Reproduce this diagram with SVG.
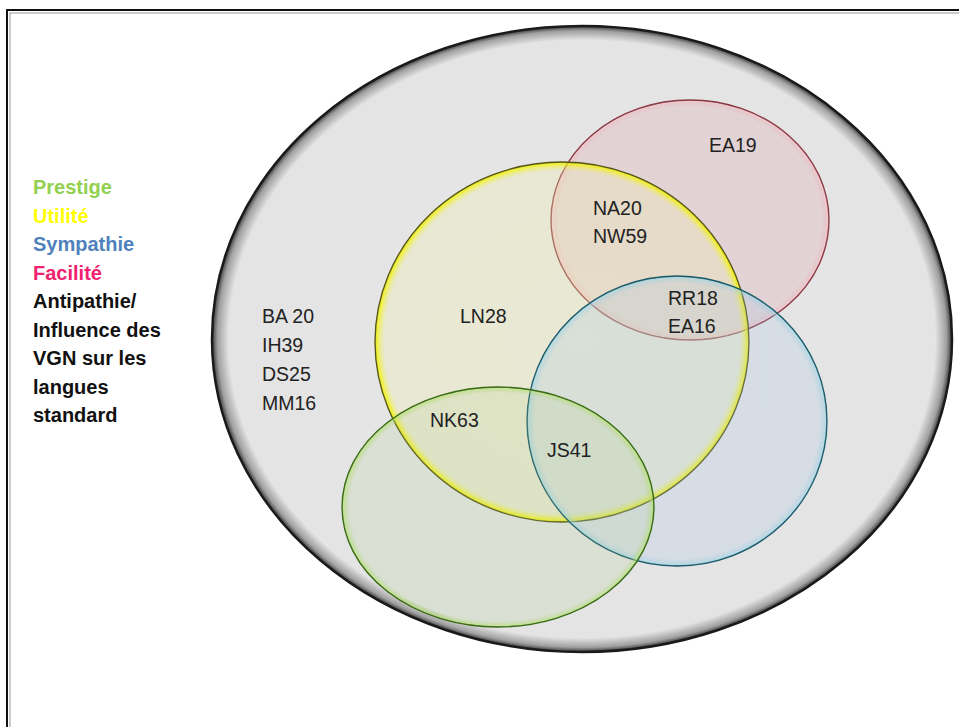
<svg xmlns="http://www.w3.org/2000/svg" width="959" height="727" viewBox="0 0 959 727">
<defs>
<radialGradient id="gOuter" cx="0.5" cy="0.5" r="0.5">
<stop offset="0" stop-color="#e6e6e6"/>
<stop offset="0.955" stop-color="#e4e4e4"/>
<stop offset="0.985" stop-color="#a0a0a0"/>
<stop offset="1" stop-color="#3a3a3a"/>
</radialGradient>
<radialGradient id="gRed" cx="0.5" cy="0.5" r="0.5">
<stop offset="0" stop-color="#d88a96" stop-opacity="0.2"/>
<stop offset="0.95" stop-color="#d88a96" stop-opacity="0.2"/>
<stop offset="0.99" stop-color="#f2b8bf" stop-opacity="0.6"/>
<stop offset="1" stop-color="#b05060" stop-opacity="0.8"/>
</radialGradient>
<radialGradient id="gYel" cx="0.5" cy="0.5" r="0.5">
<stop offset="0" stop-color="#eeeeaa" stop-opacity="0.3"/>
<stop offset="0.95" stop-color="#eeeeaa" stop-opacity="0.3"/>
<stop offset="0.99" stop-color="#f5f500" stop-opacity="0.75"/>
<stop offset="1" stop-color="#c8c800" stop-opacity="0.9"/>
</radialGradient>
<radialGradient id="gBlue" cx="0.5" cy="0.5" r="0.5">
<stop offset="0" stop-color="#a0c0e0" stop-opacity="0.22"/>
<stop offset="0.95" stop-color="#a0c0e0" stop-opacity="0.22"/>
<stop offset="0.99" stop-color="#9fd4e4" stop-opacity="0.65"/>
<stop offset="1" stop-color="#2f8aa0" stop-opacity="0.85"/>
</radialGradient>
<radialGradient id="gGreen" cx="0.5" cy="0.5" r="0.5">
<stop offset="0" stop-color="#a8c880" stop-opacity="0.16"/>
<stop offset="0.95" stop-color="#a8c880" stop-opacity="0.16"/>
<stop offset="0.99" stop-color="#b4e070" stop-opacity="0.65"/>
<stop offset="1" stop-color="#5a9a20" stop-opacity="0.85"/>
</radialGradient>
</defs>
<style>
.lg{font-family:"Liberation Sans",Arial,sans-serif;font-size:20px;font-weight:bold}
.lb{font-family:"Liberation Sans",Arial,sans-serif;font-size:19.5px;fill:#222}
</style>
<rect x="0" y="0" width="959" height="727" fill="#ffffff"/>
<g id="frame">
<rect x="7" y="10" width="970" height="740" fill="none" stroke="#111" stroke-width="2"/>
<rect x="10" y="13" width="970" height="740" fill="none" stroke="#999" stroke-width="1"/>
</g>
<g id="connectors"/>
<g id="outer">
<ellipse cx="582" cy="339" rx="370" ry="313" fill="url(#gOuter)" stroke="#1a1a1a" stroke-width="2.5"/>
</g>
<g id="red">
<ellipse cx="690" cy="220" rx="139" ry="120" fill="url(#gRed)" stroke="#8a3a44" stroke-width="1.3"/>
</g>
<g id="yellow">
<ellipse cx="562" cy="342" rx="187" ry="180" fill="url(#gYel)" stroke="#55551a" stroke-width="1.3"/>
</g>
<g id="blue">
<ellipse cx="677" cy="421" rx="150" ry="145" fill="url(#gBlue)" stroke="#1d5a6a" stroke-width="1.3"/>
</g>
<g id="green">
<ellipse cx="498" cy="507" rx="156" ry="120" fill="url(#gGreen)" stroke="#3a6a18" stroke-width="1.3"/>
</g>
<g id="legend">
<text class="lg" x="33" y="194" fill="#92d050">Prestige</text>
<text class="lg" x="33" y="222.5" fill="#ffff00">Utilité</text>
<text class="lg" x="33" y="251" fill="#4f81bd">Sympathie</text>
<text class="lg" x="33" y="279.5" fill="#f0246e">Facilité</text>
<text class="lg" x="33" y="308" fill="#111">Antipathie/</text>
<text class="lg" x="33" y="336.5" fill="#111">Influence des</text>
<text class="lg" x="33" y="365" fill="#111">VGN sur les</text>
<text class="lg" x="33" y="393.5" fill="#111">langues</text>
<text class="lg" x="33" y="422" fill="#111">standard</text>
</g>
<g id="labels">
<text class="lb" x="262" y="323">BA 20</text>
<text class="lb" x="262" y="352">IH39</text>
<text class="lb" x="262" y="381">DS25</text>
<text class="lb" x="262" y="410">MM16</text>
<text class="lb" x="460" y="323">LN28</text>
<text class="lb" x="709" y="152">EA19</text>
<text class="lb" x="593" y="215">NA20</text>
<text class="lb" x="593" y="243">NW59</text>
<text class="lb" x="668" y="305">RR18</text>
<text class="lb" x="668" y="333">EA16</text>
<text class="lb" x="430" y="427">NK63</text>
<text class="lb" x="547" y="457">JS41</text>
</g>
</svg>
